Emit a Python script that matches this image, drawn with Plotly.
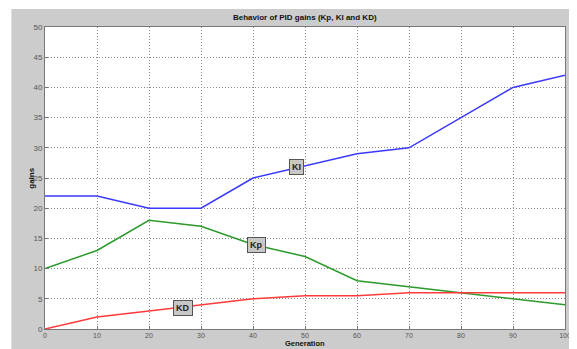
import plotly.graph_objects as go

generation = [0, 10, 20, 30, 40, 50, 60, 70, 80, 90, 100]
ki = [22, 22, 20, 20, 25, 27, 29, 30, 35, 40, 42]
kp = [10, 13, 18, 17, 14, 12, 8, 7, 6, 5, 4]
kd = [0, 2, 3, 4, 5, 5.5, 5.5, 6, 6, 6, 6]

x_ticks = [0, 10, 20, 30, 40, 50, 60, 70, 80, 90, 100]
y_ticks = [0, 5, 10, 15, 20, 25, 30, 35, 40, 45, 50]

# page body has an 8px margin, so the figure is laid out in coordinates shifted by 8px
W, H = 569, 341
L, R, T, B = 37, 6, 19, 20
pw, ph = W - L - R, H - T - B

fig = go.Figure()
fig.add_trace(go.Scatter(x=generation, y=ki, mode="lines", name="KI",
                         line=dict(color="#3a3aff", width=1.5)))
fig.add_trace(go.Scatter(x=generation, y=kp, mode="lines", name="Kp",
                         line=dict(color="#2b9a2b", width=1.5)))
fig.add_trace(go.Scatter(x=generation, y=kd, mode="lines", name="KD",
                         line=dict(color="#ff3a3a", width=1.5)))

# white strips at the top-left edge of the gray figure area
fig.add_shape(type="rect", xref="paper", yref="paper", layer="below",
              x0=-L / pw - 0.01, x1=(3 - L) / pw, y0=-B / ph - 0.1, y1=1 + T / ph + 0.1,
              fillcolor="white", line=dict(width=0))
fig.add_shape(type="rect", xref="paper", yref="paper", layer="below",
              x0=-L / pw - 0.01, x1=1 + R / pw + 0.01, y0=1 + (T - 1) / ph, y1=1 + T / ph + 0.1,
              fillcolor="white", line=dict(width=0))

box = dict(showarrow=False, bgcolor="#c8c8c8", bordercolor="#555555",
           borderwidth=1, borderpad=2,
           font=dict(family="Liberation Sans, Arial", size=9, color="#222222"))
fig.add_annotation(x=48.3, y=26.9, text="<b>KI</b>", **box)
fig.add_annotation(x=40.7, y=13.9, text="<b>Kp</b>", **box)
fig.add_annotation(x=26.6, y=3.5, text="<b>KD</b>", **box)

fig.add_annotation(xref="paper", yref="paper", x=0.5, y=1 + 10 / ph,
                   text="<b>Behavior of PID gains (Kp, KI and KD)</b>",
                   showarrow=False, yanchor="middle",
                   font=dict(family="Liberation Sans, Arial", size=8, color="#111111"))
fig.add_annotation(xref="paper", yref="paper", x=-(L - 16) / pw, y=0.5,
                   text="<b>gains</b>", textangle=-90, showarrow=False,
                   font=dict(family="Liberation Sans, Arial", size=8, color="#111111"))
fig.add_annotation(xref="paper", yref="paper", x=0.5, y=-B / ph,
                   text="<b>Generation</b>", showarrow=False, yanchor="bottom",
                   borderpad=0,
                   font=dict(family="Liberation Sans, Arial", size=7.5, color="#111111"))

axis_common = dict(showgrid=True, gridcolor="#8a8a8a", griddash="1px,2px", gridwidth=1,
                   showline=True, linecolor="#777777", linewidth=1, mirror=True,
                   ticks="inside", ticklen=3, tickcolor="#777777",
                   zeroline=False)

fig.update_xaxes(range=[0, 100], tickvals=x_ticks, ticktext=[str(v) for v in x_ticks],
                 ticklabelstandoff=0,
                 tickfont=dict(family="Liberation Sans, Arial", size=7, color="#555555"),
                 **axis_common)
fig.update_yaxes(range=[0, 50], tickvals=y_ticks, ticktext=[str(v) for v in y_ticks],
                 tickfont=dict(family="Liberation Sans, Arial", size=8, color="#555555"),
                 **axis_common)

fig.update_layout(width=W, height=H, margin=dict(l=L, r=R, t=T, b=B),
                  paper_bgcolor="#cccccc", plot_bgcolor="white", showlegend=False)

fig.write_html("out.html")
